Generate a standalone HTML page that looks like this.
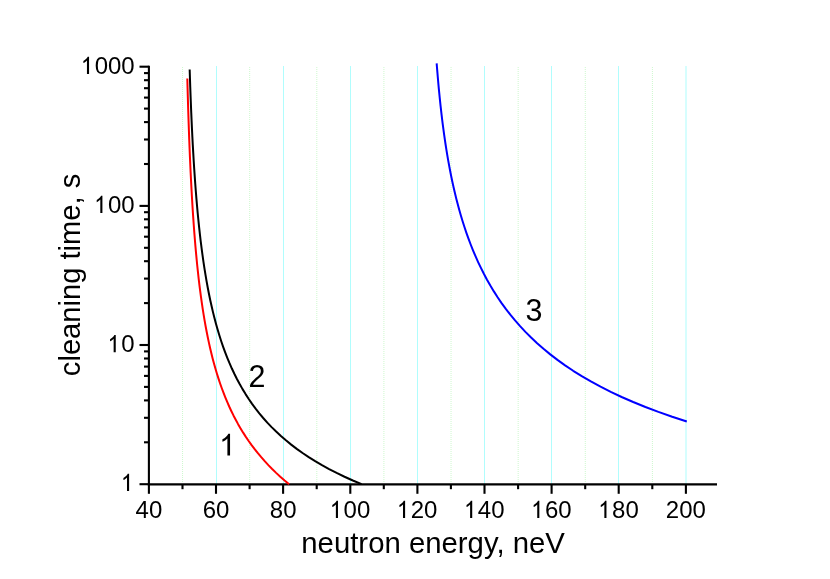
<!DOCTYPE html>
<html><head><meta charset="utf-8"><title>chart</title>
<style>html,body{margin:0;padding:0;background:#fff;}svg{display:block;will-change:transform;}text{font-family:"Liberation Sans",sans-serif;fill:#000;}</style></head>
<body>
<svg width="830" height="579" viewBox="0 0 830 579">
<rect x="0" y="0" width="830" height="579" fill="#ffffff"/>
<g shape-rendering="crispEdges">
<rect x="216" y="66" width="1" height="417.5" fill="#b0fdfd"/>
<rect x="283" y="66" width="1" height="417.5" fill="#b0fdfd"/>
<rect x="350" y="66" width="1" height="417.5" fill="#b0fdfd"/>
<rect x="417" y="66" width="1" height="417.5" fill="#b0fdfd"/>
<rect x="484" y="66" width="1" height="417.5" fill="#b0fdfd"/>
<rect x="551" y="66" width="1" height="417.5" fill="#b0fdfd"/>
<rect x="618" y="66" width="1" height="417.5" fill="#b0fdfd"/>
<rect x="685" y="66" width="2" height="417.5" fill="#d6fefe"/>
</g>
<g fill="none">
<line x1="182.56" y1="67" x2="182.56" y2="483" stroke="#cdf8cd" stroke-width="1" stroke-dasharray="1 1"/>
<line x1="249.68" y1="67" x2="249.68" y2="483" stroke="#cdf8cd" stroke-width="1" stroke-dasharray="1 1"/>
<line x1="316.8" y1="67" x2="316.8" y2="483" stroke="#cdf8cd" stroke-width="1" stroke-dasharray="1 1"/>
<line x1="383.92" y1="67" x2="383.92" y2="483" stroke="#cdf8cd" stroke-width="1" stroke-dasharray="1 1"/>
<line x1="451.04" y1="67" x2="451.04" y2="483" stroke="#cdf8cd" stroke-width="1" stroke-dasharray="1 1"/>
<line x1="518.16" y1="67" x2="518.16" y2="483" stroke="#cdf8cd" stroke-width="1" stroke-dasharray="1 1"/>
<line x1="585.28" y1="67" x2="585.28" y2="483" stroke="#cdf8cd" stroke-width="1" stroke-dasharray="1 1"/>
<line x1="652.4" y1="67" x2="652.4" y2="483" stroke="#cdf8cd" stroke-width="1" stroke-dasharray="1 1"/>
</g>
<g stroke="#000" stroke-width="2.1" fill="none" stroke-linecap="butt">
<line x1="148.9" y1="65.64" x2="148.9" y2="485.25"/>
<line x1="147.85" y1="484.4" x2="717" y2="484.4"/>
<line x1="148.9" y1="484.2" x2="148.9" y2="493.8"/>
<line x1="216.0" y1="484.2" x2="216.0" y2="493.8"/>
<line x1="283.1" y1="484.2" x2="283.1" y2="493.8"/>
<line x1="350.3" y1="484.2" x2="350.3" y2="493.8"/>
<line x1="417.4" y1="484.2" x2="417.4" y2="493.8"/>
<line x1="484.5" y1="484.2" x2="484.5" y2="493.8"/>
<line x1="551.6" y1="484.2" x2="551.6" y2="493.8"/>
<line x1="618.7" y1="484.2" x2="618.7" y2="493.8"/>
<line x1="685.9" y1="484.2" x2="685.9" y2="493.8"/>
<line x1="182.5" y1="484.2" x2="182.5" y2="489.2"/>
<line x1="249.6" y1="484.2" x2="249.6" y2="489.2"/>
<line x1="316.7" y1="484.2" x2="316.7" y2="489.2"/>
<line x1="383.8" y1="484.2" x2="383.8" y2="489.2"/>
<line x1="450.9" y1="484.2" x2="450.9" y2="489.2"/>
<line x1="518.1" y1="484.2" x2="518.1" y2="489.2"/>
<line x1="585.2" y1="484.2" x2="585.2" y2="489.2"/>
<line x1="652.3" y1="484.2" x2="652.3" y2="489.2"/>
<line x1="139.5" y1="484.2" x2="148.9" y2="484.2"/>
<line x1="139.5" y1="345.0" x2="148.9" y2="345.0"/>
<line x1="139.5" y1="205.9" x2="148.9" y2="205.9"/>
<line x1="139.5" y1="66.7" x2="148.9" y2="66.7"/>
<line x1="144" y1="442.3" x2="148.9" y2="442.3"/>
<line x1="144" y1="417.8" x2="148.9" y2="417.8"/>
<line x1="144" y1="400.4" x2="148.9" y2="400.4"/>
<line x1="144" y1="386.9" x2="148.9" y2="386.9"/>
<line x1="144" y1="375.9" x2="148.9" y2="375.9"/>
<line x1="144" y1="366.6" x2="148.9" y2="366.6"/>
<line x1="144" y1="358.5" x2="148.9" y2="358.5"/>
<line x1="144" y1="351.4" x2="148.9" y2="351.4"/>
<line x1="144" y1="303.1" x2="148.9" y2="303.1"/>
<line x1="144" y1="278.6" x2="148.9" y2="278.6"/>
<line x1="144" y1="261.2" x2="148.9" y2="261.2"/>
<line x1="144" y1="247.8" x2="148.9" y2="247.8"/>
<line x1="144" y1="236.7" x2="148.9" y2="236.7"/>
<line x1="144" y1="227.4" x2="148.9" y2="227.4"/>
<line x1="144" y1="219.3" x2="148.9" y2="219.3"/>
<line x1="144" y1="212.2" x2="148.9" y2="212.2"/>
<line x1="144" y1="164.0" x2="148.9" y2="164.0"/>
<line x1="144" y1="139.5" x2="148.9" y2="139.5"/>
<line x1="144" y1="122.1" x2="148.9" y2="122.1"/>
<line x1="144" y1="108.6" x2="148.9" y2="108.6"/>
<line x1="144" y1="97.6" x2="148.9" y2="97.6"/>
<line x1="144" y1="88.2" x2="148.9" y2="88.2"/>
<line x1="144" y1="80.2" x2="148.9" y2="80.2"/>
<line x1="144" y1="73.1" x2="148.9" y2="73.1"/>
</g>
<g fill="none" stroke-width="2" stroke-linejoin="round" stroke-linecap="butt">
<path d="M187.32,78.50 L187.56,87.73 L187.82,96.82 L188.08,105.79 L188.36,114.61 L188.65,123.31 L188.95,131.88 L189.26,140.33 L189.59,148.64 L189.93,156.84 L190.29,164.91 L190.66,172.86 L191.05,180.69 L191.46,188.40 L191.88,196.00 L192.32,203.49 L192.78,210.86 L193.27,218.12 L193.77,225.27 L194.30,232.32 L194.85,239.26 L195.42,246.09 L196.02,252.82 L196.64,259.46 L197.29,265.99 L197.98,272.43 L198.69,278.77 L199.43,285.01 L200.20,291.17 L201.01,297.23 L201.86,303.20 L202.74,309.09 L203.66,314.89 L204.62,320.61 L205.62,326.24 L206.67,331.79 L207.76,337.27 L208.90,342.66 L210.09,347.98 L211.34,353.23 L212.63,358.40 L213.99,363.50 L215.40,368.54 L216.88,373.50 L218.42,378.40 L220.03,383.24 L221.71,388.01 L223.47,392.72 L225.30,397.37 L227.21,401.97 L229.20,406.51 L231.29,410.99 L233.46,415.42 L235.73,419.80 L238.10,424.14 L240.58,428.42 L243.16,432.66 L245.86,436.85 L248.67,441.00 L251.61,445.11 L254.68,449.18 L257.88,453.21 L261.23,457.20 L264.72,461.17 L268.36,465.09 L272.17,468.99 L276.14,472.86 L280.29,476.70 L284.61,480.51 L289.13,484.30" stroke="#ff0000"/>
<path d="M189.67,69.49 L189.96,78.25 L190.25,86.91 L190.56,95.48 L190.89,103.95 L191.23,112.34 L191.59,120.63 L191.97,128.83 L192.37,136.94 L192.79,144.96 L193.24,152.90 L193.70,160.74 L194.19,168.50 L194.71,176.17 L195.25,183.75 L195.82,191.25 L196.42,198.66 L197.05,205.98 L197.71,213.22 L198.41,220.38 L199.14,227.46 L199.91,234.45 L200.72,241.36 L201.58,248.19 L202.48,254.93 L203.42,261.60 L204.41,268.19 L205.46,274.69 L206.56,281.12 L207.72,287.48 L208.93,293.75 L210.21,299.95 L211.56,306.07 L212.97,312.11 L214.46,318.08 L216.03,323.98 L217.68,329.80 L219.41,335.55 L221.23,341.22 L223.15,346.82 L225.17,352.36 L227.29,357.82 L229.52,363.21 L231.87,368.53 L234.34,373.78 L236.94,378.96 L239.67,384.07 L242.54,389.12 L245.57,394.10 L248.75,399.01 L252.09,403.85 L255.61,408.64 L259.31,413.35 L263.21,418.00 L267.30,422.59 L271.61,427.12 L276.14,431.58 L280.91,435.99 L285.92,440.33 L291.19,444.61 L296.74,448.83 L302.58,452.99 L308.71,457.09 L315.17,461.13 L321.96,465.12 L329.11,469.04 L336.62,472.92 L344.52,476.73 L352.84,480.49 L361.58,484.20" stroke="#000000"/>
<path d="M436.66,63.40 L436.92,66.71 L437.20,70.14 L437.50,73.69 L437.81,77.36 L438.14,81.15 L438.49,85.05 L438.86,89.05 L439.26,93.17 L439.68,97.38 L440.12,101.69 L440.60,106.10 L441.10,110.61 L441.63,115.20 L442.19,119.88 L442.79,124.64 L443.43,129.49 L444.10,134.41 L444.82,139.41 L445.58,144.48 L446.38,149.62 L447.24,154.82 L448.14,160.09 L449.10,165.42 L450.12,170.80 L451.20,176.24 L452.35,181.72 L453.57,187.25 L454.86,192.83 L456.23,198.45 L457.69,204.11 L459.23,209.80 L460.87,215.52 L462.60,221.27 L464.45,227.05 L466.40,232.85 L468.48,238.67 L470.68,244.50 L473.01,250.35 L475.49,256.21 L478.12,262.07 L480.91,267.94 L483.86,273.81 L487.00,279.68 L490.33,285.55 L493.87,291.40 L497.61,297.25 L501.59,303.07 L505.81,308.89 L510.29,314.68 L515.04,320.45 L520.08,326.19 L525.42,331.90 L531.09,337.58 L537.11,343.22 L543.50,348.82 L550.27,354.39 L557.46,359.90 L565.08,365.37 L573.17,370.79 L581.75,376.15 L590.86,381.46 L600.52,386.70 L610.77,391.88 L621.64,397.00 L633.18,402.04 L645.42,407.01 L658.40,411.91 L672.18,416.72 L686.80,421.46" stroke="#0000ff"/>
</g>
<g>
<text transform="translate(135.56,518.00) scale(1,1.03)" font-size="24">40</text>
<text transform="translate(202.68,518.00) scale(1,1.03)" font-size="24">60</text>
<text transform="translate(269.80,518.00) scale(1,1.03)" font-size="24">80</text>
<path transform="translate(329.04,518.00) scale(0.01172,-0.01172)" d="M763 0H583V1147Q528 1085 438 1023Q348 961 277 930V1104Q405 1175 501 1276Q600 1377 647 1472H763Z" fill="#000"/>
<text transform="translate(343.59,518.00) scale(1,1.03)" font-size="24">00</text>
<path transform="translate(396.16,518.00) scale(0.01172,-0.01172)" d="M763 0H583V1147Q528 1085 438 1023Q348 961 277 930V1104Q405 1175 501 1276Q600 1377 647 1472H763Z" fill="#000"/>
<text transform="translate(410.71,518.00) scale(1,1.03)" font-size="24">20</text>
<path transform="translate(463.28,518.00) scale(0.01172,-0.01172)" d="M763 0H583V1147Q528 1085 438 1023Q348 961 277 930V1104Q405 1175 501 1276Q600 1377 647 1472H763Z" fill="#000"/>
<text transform="translate(477.83,518.00) scale(1,1.03)" font-size="24">40</text>
<path transform="translate(530.40,518.00) scale(0.01172,-0.01172)" d="M763 0H583V1147Q528 1085 438 1023Q348 961 277 930V1104Q405 1175 501 1276Q600 1377 647 1472H763Z" fill="#000"/>
<text transform="translate(544.95,518.00) scale(1,1.03)" font-size="24">60</text>
<path transform="translate(597.52,518.00) scale(0.01172,-0.01172)" d="M763 0H583V1147Q528 1085 438 1023Q348 961 277 930V1104Q405 1175 501 1276Q600 1377 647 1472H763Z" fill="#000"/>
<text transform="translate(612.07,518.00) scale(1,1.03)" font-size="24">80</text>
<text transform="translate(665.84,518.00) scale(1,1.03)" font-size="24">200</text>
<path transform="translate(120.16,490.90) scale(0.01172,-0.01172)" d="M763 0H583V1147Q528 1085 438 1023Q348 961 277 930V1104Q405 1175 501 1276Q600 1377 647 1472H763Z" fill="#000"/>
<path transform="translate(106.81,352.23) scale(0.01172,-0.01172)" d="M763 0H583V1147Q528 1085 438 1023Q348 961 277 930V1104Q405 1175 501 1276Q600 1377 647 1472H763Z" fill="#000"/>
<text transform="translate(121.36,352.23) scale(1,1.03)" font-size="24">0</text>
<path transform="translate(93.47,213.06) scale(0.01172,-0.01172)" d="M763 0H583V1147Q528 1085 438 1023Q348 961 277 930V1104Q405 1175 501 1276Q600 1377 647 1472H763Z" fill="#000"/>
<text transform="translate(108.01,213.06) scale(1,1.03)" font-size="24">00</text>
<path transform="translate(80.12,73.89) scale(0.01172,-0.01172)" d="M763 0H583V1147Q528 1085 438 1023Q348 961 277 930V1104Q405 1175 501 1276Q600 1377 647 1472H763Z" fill="#000"/>
<text transform="translate(94.67,73.89) scale(1,1.03)" font-size="24">000</text>
<path transform="translate(218.80,455.50) scale(0.01475,-0.01475)" d="M763 0H583V1147Q522 1085 423 1023Q324 961 245 930V1104Q387 1175 493 1276Q600 1377 647 1472H763Z" fill="#000"/>
<text transform="translate(248.60,386.60) scale(1,1.04)" font-size="30.5">2</text>
<text transform="translate(525.40,320.70) scale(1,1.04)" font-size="30.5">3</text>
</g>
<text x="433.1" y="553.3" font-size="29.33" text-anchor="middle">neutron energy, neV</text>
<text transform="translate(79.5,274.9) rotate(-90)" font-size="29.15" text-anchor="middle">cleaning time, s</text>
</svg></body></html>
